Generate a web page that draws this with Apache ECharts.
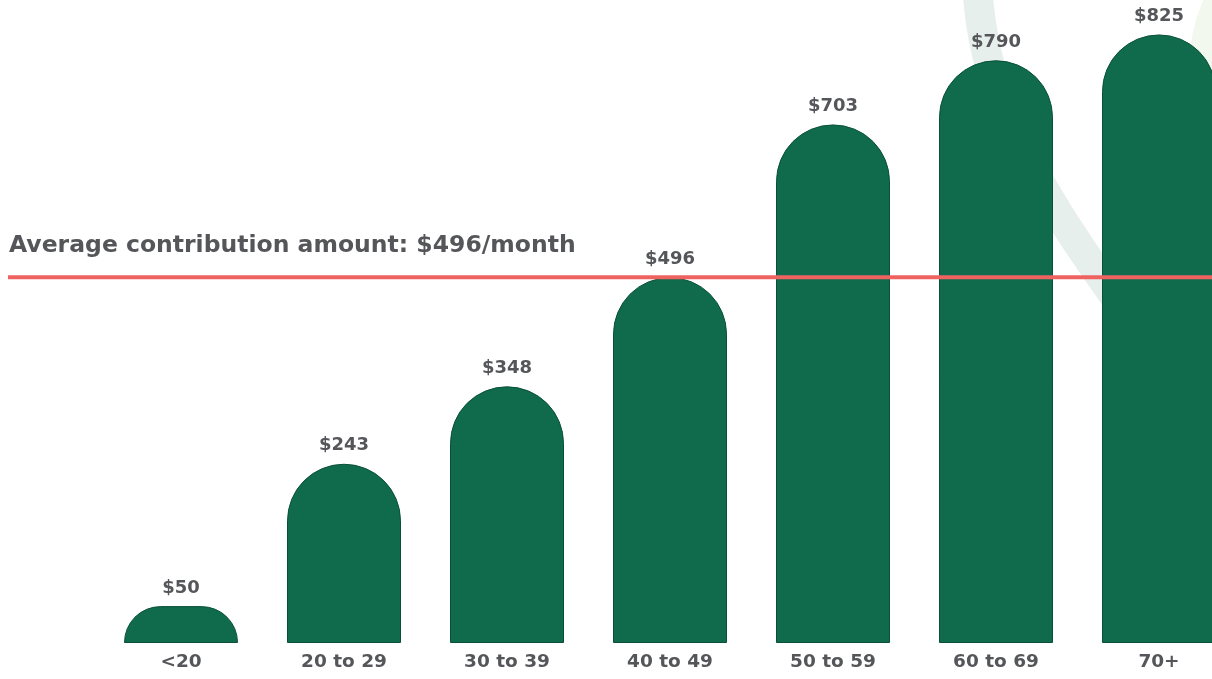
<!DOCTYPE html>
<html>
<head>
<meta charset="utf-8">
<style>
   html, body { margin: 0; padding: 0; background: #fff; }
   #chartWrapper { width: 1212px; height: 679px; }
</style>
<script src="https://cdn.jsdelivr.net/npm/echarts@6/dist/echarts.min.js"></script>
</head>
<body>
<div id="chartWrapper"></div>
<script>
var ageGroups = ['<20', '20 to 29', '30 to 39', '40 to 49', '50 to 59', '60 to 69', '70+'];
var contributions = [50, 243, 348, 496, 703, 790, 825];
var averageContribution = 496;

var textColor = '#555659';
var barColor = '#0f6b4c';
var fontName = 'DejaVu Sans';

var iChart = echarts.init(document.getElementById('chartWrapper'));

// faint decorative shapes behind the bars
var decorations = [{
   type: 'bezierCurve',
   z: 0,
   silent: true,
   shape: { x1: 977, y1: -20, cpx1: 982, cpy1: 120, cpx2: 1060, cpy2: 220, x2: 1160, y2: 360 },
   style: { stroke: '#e6efeb', lineWidth: 30, fill: null }
}, {
   type: 'circle',
   z: 0,
   silent: true,
   shape: { cx: 1330, cy: 60, r: 140 },
   style: { fill: '#f3f8ee' }
}];

var option = {
   animation: false,
   title: {
      text: 'Average contribution amount: $' + averageContribution + '/month',
      left: 4,
      top: 229,
      textStyle: {
         fontFamily: fontName,
         fontWeight: 'bold',
         fontSize: 23.5,
         color: textColor
      }
   },
   graphic: decorations,
   grid: [
      { left: 99.5, right: -28.5, top: 16, bottom: 36, outerBoundsMode: 'none', containLabel: false },
      { left: 8, right: 0, top: 16, bottom: 36, outerBoundsMode: 'none', containLabel: false }
   ],
   xAxis: [{
      type: 'category',
      gridIndex: 0,
      data: ageGroups,
      axisLine: { show: false },
      axisTick: { show: false },
      axisLabel: {
         margin: 10,
         fontFamily: fontName,
         fontWeight: 'bold',
         fontSize: 18.5,
         color: textColor
      }
   }, {
      type: 'value',
      gridIndex: 1,
      min: 0,
      max: 1,
      show: false
   }],
   yAxis: [{
      type: 'value',
      gridIndex: 0,
      min: 0,
      max: 850,
      show: false,
      splitLine: { show: false }
   }, {
      type: 'value',
      gridIndex: 1,
      min: 0,
      max: 850,
      show: false,
      splitLine: { show: false }
   }],
   series: [{
      type: 'bar',
      xAxisIndex: 0,
      yAxisIndex: 0,
      z: 2,
      barWidth: 114,
      data: contributions,
      itemStyle: {
         color: barColor,
         borderColor: '#0a4f37',
         borderWidth: 1,
         borderRadius: [57, 57, 0, 0]
      },
      label: {
         show: true,
         position: 'top',
         distance: 9,
         formatter: function(p) { return '$' + p.value; },
         fontFamily: fontName,
         fontWeight: 'bold',
         fontSize: 18,
         color: textColor
      }
   }, {
      type: 'line',
      xAxisIndex: 1,
      yAxisIndex: 1,
      z: 3,
      symbol: 'none',
      data: [[0, averageContribution], [1, averageContribution]],
      lineStyle: { color: '#ef6262', width: 4 }
   }]
};

iChart.setOption(option);
</script>
</body>
</html>
